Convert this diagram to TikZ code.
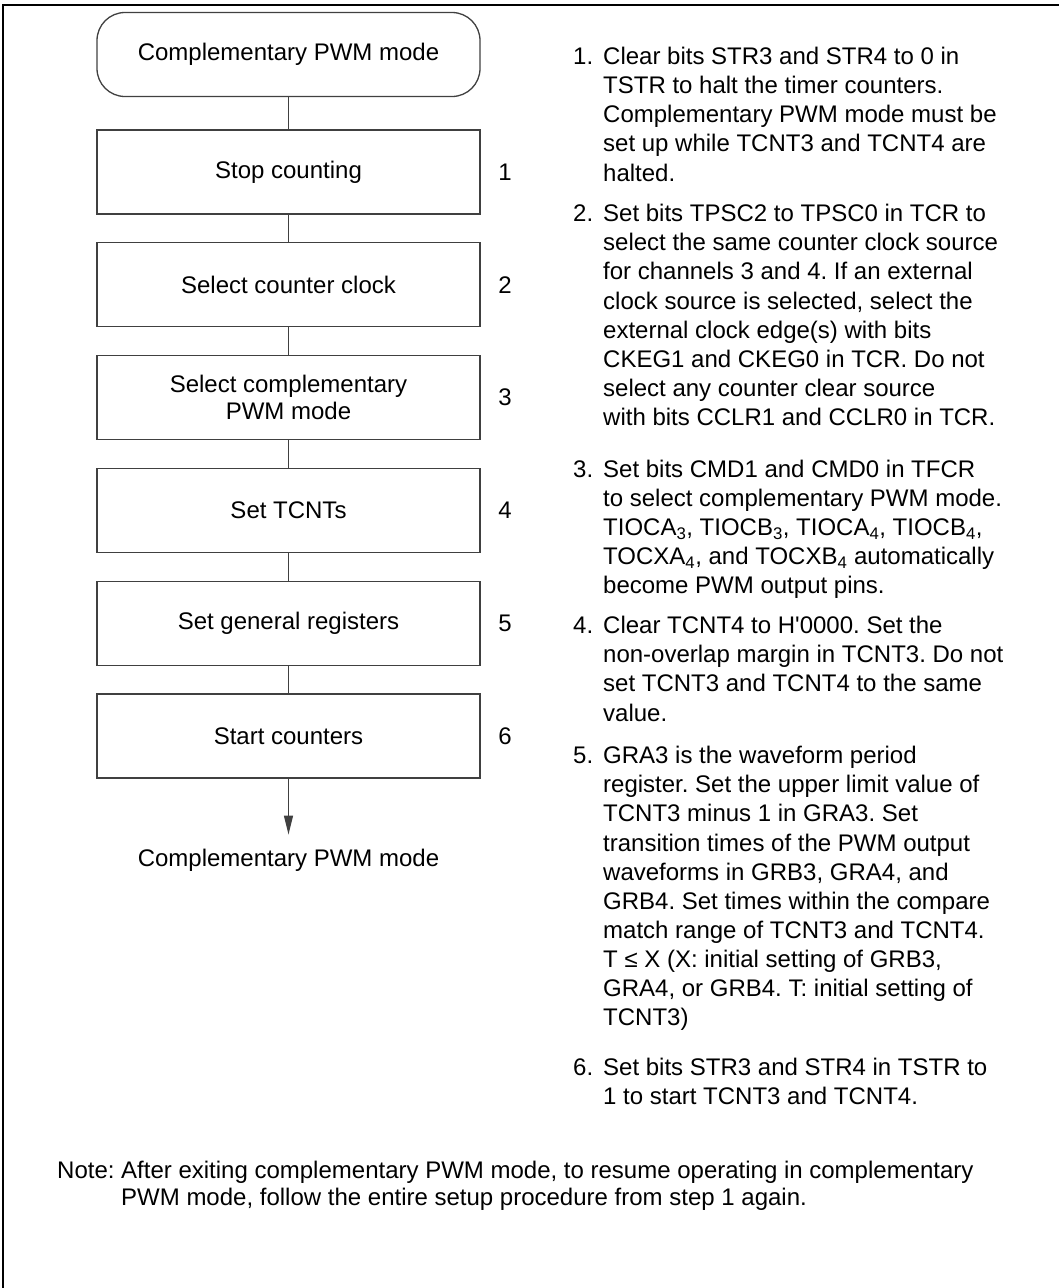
\documentclass[tikz,border=0pt]{standalone}
\usepackage{fontspec}
\setmainfont{Liberation Sans}
\usepackage{tikz}
\usetikzlibrary{arrows.meta,positioning,backgrounds}
\pgfdeclarelayer{edgelayer}
\pgfdeclarelayer{nodelayer}
\pgfsetlayers{background,edgelayer,nodelayer,main}
\frenchspacing
\newcommand{\boxfont}{\fontsize{24pt}{26.7pt}\selectfont}
\newcommand{\listfont}{\fontsize{24pt}{29.15pt}\selectfont}
\tikzstyle{none}=[inner sep=0mm]
\tikzstyle{stepbox}=[draw=black!75,line width=1.3pt,minimum width=383pt,minimum height=84pt,inner sep=0pt,align=center,font=\boxfont]
\tikzstyle{termbox}=[stepbox,rounded corners=28pt]
\tikzstyle{stepno}=[inner sep=0pt,font=\boxfont]
\tikzstyle{itemno}=[inner sep=0pt,anchor=base west,font=\listfont]
% base of a multi-line node is its last line
\tikzstyle{itemtext}=[inner sep=0pt,anchor=base west,align=left,font=\listfont]
\tikzstyle{notetext}=[inner sep=0pt,anchor=base west,align=left,font=\boxfont]
\tikzstyle{flow}=[draw=black!75,line width=1.3pt]
\tikzstyle{flowarrow}=[flow,-{Triangle[length=19pt,width=9pt]}]

\begin{document}
\begin{tikzpicture}[x=1pt,y=-1pt]
	\useasboundingbox (0,0) rectangle (1058,1288);
	\draw [line width=2pt] (3,1290) -- (3,4.5) -- (1060,4.5);
	\begin{pgfonlayer}{nodelayer}
		% flow chart
		\node [style=termbox] (start) at (288.5, 54.5) {Complementary PWM mode};
		\node [style=stepbox] (s1) at (288.5, 172) {Stop counting};
		\node [style=stepbox] (s2) at (288.5, 284.8) {Select counter clock};
		\node [style=stepbox] (s3) at (288.5, 397.6) {Select complementary\\PWM mode};
		\node [style=stepbox] (s4) at (288.5, 510.4) {Set TCNTs};
		\node [style=stepbox] (s5) at (288.5, 623.2) {Set general registers};
		\node [style=stepbox] (s6) at (288.5, 736) {Start counters};
		\node [style=none, font=\boxfont] (finish) at (288.5, 860) {Complementary PWM mode};
		\node [style=stepno] (k1) at (505, 172) {1};
		\node [style=stepno] (k2) at (505, 284.8) {2};
		\node [style=stepno] (k3) at (505, 397.6) {3};
		\node [style=stepno] (k4) at (505, 510.4) {4};
		\node [style=stepno] (k5) at (505, 623.2) {5};
		\node [style=stepno] (k6) at (505, 736) {6};
		% notes on the right
		\node [style=itemno] (n1) at (573, 64.5) {1.};
		\node [style=itemtext] (t1) at (603, 181.1) {Clear bits STR3 and STR4 to 0 in\\TSTR to halt the timer counters.\\Complementary PWM mode must be\\set up while TCNT3 and TCNT4 are\\halted.};
		\node [style=itemno] (n2) at (573, 221.6) {2.};
		\node [style=itemtext] (t2) at (603, 425.65) {Set bits TPSC2 to TPSC0 in TCR to\\select the same counter clock source\\for channels 3 and 4. If an external\\clock source is selected, select the\\external clock edge(s) with bits\\CKEG1 and CKEG0 in TCR. Do not\\select any counter clear source\\with bits CCLR1 and CCLR0 in TCR.};
		\node [style=itemno] (n3) at (573, 477) {3.};
		\node [style=itemtext] (t3) at (603, 593.6) {Set bits CMD1 and CMD0 in TFCR\\to select complementary PWM mode.\\TIOCA\textsubscript{3}, TIOCB\textsubscript{3}, TIOCA\textsubscript{4}, TIOCB\textsubscript{4},\\TOCXA\textsubscript{4}, and TOCXB\textsubscript{4} automatically\\become PWM output pins.};
		\node [style=itemno] (n4) at (573, 633.6) {4.};
		\node [style=itemtext] (t4) at (603, 721.05) {Clear TCNT4 to H\textquotesingle 0000. Set the\\non-overlap margin in TCNT3. Do not\\set TCNT3 and TCNT4 to the same\\value.};
		\node [style=itemno] (n5) at (573, 763.6) {5.};
		\node [style=itemtext] (t5) at (603, 1025.95) {GRA3 is the waveform period\\register. Set the upper limit value of\\TCNT3 minus 1 in GRA3. Set\\transition times of the PWM output\\waveforms in GRB3, GRA4, and\\GRB4. Set times within the compare\\match range of TCNT3 and TCNT4.\\T ≤ X (X: initial setting of GRB3,\\GRA4, or GRB4. T: initial setting of\\TCNT3)};
		\node [style=itemno] (n6) at (573, 1075.3) {6.};
		\node [style=itemtext] (t6) at (603, 1104.45) {Set bits STR3 and STR4 in TSTR to\\1 to start TCNT3 and TCNT4.};
		% note at the bottom
		\node [style=notetext] (notehead) at (57, 1178.6) {Note:};
		\node [style=notetext] (notebody) at (121, 1205.3) {After exiting complementary PWM mode, to resume operating in complementary\\PWM mode, follow the entire setup procedure from step 1 again.};
	\end{pgfonlayer}
	\begin{pgfonlayer}{edgelayer}
		\draw [style=flow] (start) to (s1);
		\draw [style=flow] (s1) to (s2);
		\draw [style=flow] (s2) to (s3);
		\draw [style=flow] (s3) to (s4);
		\draw [style=flow] (s4) to (s5);
		\draw [style=flow] (s5) to (s6);
		\draw [style=flowarrow, shorten >=14pt] (s6) to (finish);
	\end{pgfonlayer}
\end{tikzpicture}
\end{document}
